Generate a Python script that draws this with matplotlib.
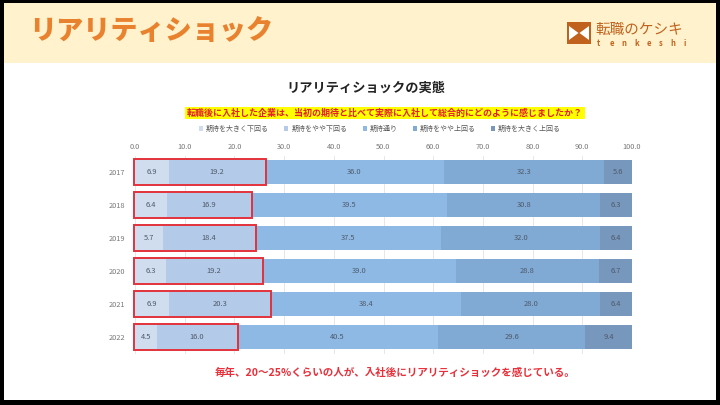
import matplotlib
matplotlib.use("Agg")
import matplotlib.pyplot as plt
from matplotlib.patches import Rectangle, Polygon
import numpy as np

plt.rcParams['font.family'] = ['Noto Sans CJK JP', 'DejaVu Sans']

years = ["2017", "2018", "2019", "2020", "2021", "2022"]
series_names = ["期待を大きく下回る", "期待をやや下回る", "期待通り", "期待をやや上回る", "期待を大きく上回る"]
much_below = [6.9, 6.4, 5.7, 6.3, 6.9, 4.5]
slightly_below = [19.2, 16.9, 18.4, 19.2, 20.3, 16.0]
as_expected = [36.0, 39.5, 37.5, 39.0, 38.4, 40.5]
slightly_above = [32.3, 30.8, 32.0, 28.8, 28.0, 29.6]
much_above = [5.6, 6.3, 6.4, 6.7, 6.4, 9.4]
xticks = [0, 10, 20, 30, 40, 50, 60, 70, 80, 90, 100]

colors = ["#D0DDEF", "#B3CAE8", "#8EB9E4", "#80A9D3", "#7797BD"]
series = [much_below, slightly_below, as_expected, slightly_above, much_above]

W, H = 720, 405
fig = plt.figure(figsize=(7.2, 4.05), dpi=100)
fig.patch.set_facecolor("black")

def fx(px):
    return px / W

def fy(py):
    return 1 - py / H

# background panels
bg = fig.add_axes([0, 0, 1, 1])
bg.set_xlim(0, W)
bg.set_ylim(H, 0)
bg.axis("off")
bg.add_patch(Rectangle((4, 3), 712, 397, facecolor="white", edgecolor="none"))
bg.add_patch(Rectangle((4, 3), 712, 60, facecolor="#FFF2CC", edgecolor="none"))

# header title
bg.text(29, 31, "リアリティショック", fontsize=19.5, fontweight="black", color="#E9822F",
        ha="left", va="center")

# logo
brown = "#C0621E"
bg.add_patch(Rectangle((567, 22), 24, 22, facecolor=brown, edgecolor="none"))
bg.add_patch(Polygon([(569, 26), (569, 40), (578.5, 33)], closed=True, facecolor="white", edgecolor="none"))
bg.add_patch(Polygon([(589, 26), (589, 40), (579.5, 33)], closed=True, facecolor="white", edgecolor="none"))
bg.text(595, 30, "転職のケシキ", fontsize=10.5, color=brown, ha="left", va="center")
for i, ch in enumerate("tenkeshi"):
    bg.text(597 + i * 12.3, 43, ch, fontsize=5.5, color=brown, ha="left", va="center",
            fontweight="bold")

# chart title and subtitle
bg.text(366, 88, "リアリティショックの実態", fontsize=9.5, fontweight="bold", color="#222222",
        ha="center", va="center")
bg.text(385, 113, "転職後に入社した企業は、当初の期待と比べて実際に入社して総合的にどのように感じましたか？",
        fontsize=6.5, fontweight="bold", color="#E0202A", ha="center", va="center",
        bbox=dict(boxstyle="square,pad=0.2", facecolor="#FFFF00", edgecolor="none"))

# bottom note
bg.text(395, 373, "毎年、20〜25%くらいの人が、入社後にリアリティショックを感じている。",
        fontsize=7.6, fontweight="bold", color="#E8303A", ha="center", va="center")

# main chart axes
left_px, right_px = 135, 632
top_px, bot_px = 155.5, 353.5
ax = fig.add_axes([fx(left_px), fy(bot_px), fx(right_px - left_px), (bot_px - top_px) / H])
ax.set_facecolor("none")

y = np.arange(len(years))
left = np.zeros(len(years))
handles = []
for vals, col, name in zip(series, colors, series_names):
    vals = np.array(vals)
    b = ax.barh(y, vals, left=left, height=0.7, color=col, edgecolor="none", label=name, zorder=2)
    handles.append(b)
    for yi, (l, v) in enumerate(zip(left, vals)):
        ax.text(l + v / 2, yi, f"{v:.1f}", ha="center", va="center", fontsize=5.4,
                color="#4E5A6A", zorder=4)
    left = left + vals

# red highlight boxes around the two "below" segments
for yi in range(len(years)):
    tot = much_below[yi] + slightly_below[yi]
    ax.add_patch(Rectangle((-0.3, yi - 0.39), tot + 0.5, 0.78, facecolor="none",
                           edgecolor="#E2323C", linewidth=1.4, clip_on=False, zorder=5))

ax.set_xlim(0, 100)
ax.set_ylim(len(years) - 0.5, -0.5)
ax.set_xticks(xticks)
ax.set_xticklabels([f"{t:.1f}" for t in xticks])
ax.xaxis.tick_top()
ax.tick_params(axis="x", length=0, labelsize=5.3, labelcolor="#777777", pad=3)
ax.set_yticks(y)
ax.set_yticklabels(years)
ax.tick_params(axis="y", length=0, labelsize=5.3, labelcolor="#777777", pad=7)
ax.grid(axis="x", color="#E3E3E3", linewidth=0.6, zorder=0)
ax.set_axisbelow(True)
for s in ax.spines.values():
    s.set_visible(False)

leg = fig.legend(handles=handles, labels=series_names, loc="center",
                 bbox_to_anchor=(fx(380), fy(129)), ncol=5, frameon=False,
                 fontsize=5, handlelength=0.6, handleheight=0.6, handletextpad=0.4,
                 columnspacing=2.2)
for t in leg.get_texts():
    t.set_color("#595959")

fig.savefig("out.png", dpi=100, facecolor=fig.get_facecolor())
